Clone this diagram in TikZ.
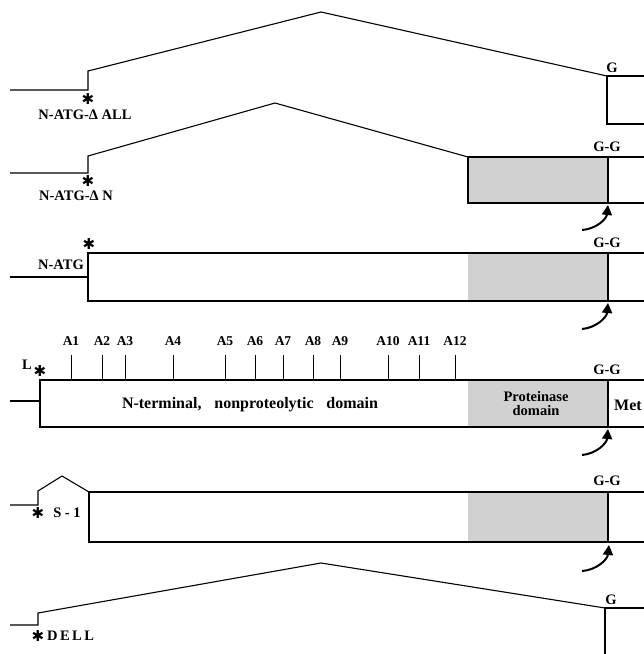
\documentclass[tikz,border=0pt]{standalone}
\usepackage{fontspec}
\setmainfont{Liberation Serif}
\newfontfamily\symfont{DejaVu Sans}
\usetikzlibrary{arrows.meta}
\begin{document}
\begin{tikzpicture}[x=1pt,y=-1pt,
  intron/.style={line width=1.1pt,line join=miter},
  exonbox/.style={line width=1.9pt},
  prot/.style={fill=black!18},
  lbl/.style={font=\fontsize{14.5}{15}\selectfont\bfseries,inner sep=0pt},
  alab/.style={font=\fontsize{13.5}{14}\selectfont\bfseries,inner sep=0pt},
  bigl/.style={font=\fontsize{16}{17}\selectfont\bfseries,inner sep=0pt},
  star/.style={font=\symfont\fontsize{15}{15}\selectfont\bfseries,inner sep=0pt},
  tickln/.style={line width=1pt},
  cleave/.style={line width=2pt,-{Triangle[width=10pt,length=10pt]},bend right=40}]
\useasboundingbox (0,0) rectangle (644,654);
\clip (0,0) rectangle (644,654);
% ---------- row 1: N-ATG-Delta ALL
\coordinate (r1a) at (10,90);
\coordinate (r1b) at (88,90);
\coordinate (r1c) at (88,71);
\coordinate (r1p) at (321,12);
\coordinate (r1g) at (607,76);
\draw[intron] (r1a) -- (r1b) -- (r1c) -- (r1p) -- (r1g);
\draw[exonbox] (r1g) rectangle (660,124);
\node[lbl] (g1) at (612,68) {G};
\node[star] (s1) at (88,99) {✱};
\node[lbl] (n1) at (85,115) {N-ATG-Δ ALL};
% ---------- row 2: N-ATG-Delta N
\coordinate (r2a) at (10,173);
\coordinate (r2b) at (88,173);
\coordinate (r2c) at (88,156);
\coordinate (r2p) at (275,103);
\coordinate (r2g) at (468,157);
\draw[intron] (r2a) -- (r2b) -- (r2c) -- (r2p) -- (r2g);
\fill[prot] (r2g) rectangle (608,203);
\draw[exonbox] (r2g) rectangle (660,203);
\draw[intron] (608,157) -- (608,203);
\node[lbl] (gg2) at (607,147) {G-G};
\node[star] (s2) at (88,181) {✱};
\node[lbl] (n2) at (76,196) {N-ATG-Δ N};
\coordinate (a2s) at (582,230);
\coordinate (a2e) at (608,205);
\draw[cleave] (a2s) to (a2e);
% ---------- row 3: N-ATG
\coordinate (r3a) at (10,277);
\coordinate (r3b) at (88,277);
\draw[intron] (r3a) -- (r3b);
\fill[prot] (468,253) rectangle (608,301);
\draw[exonbox] (88,253) rectangle (660,301);
\draw[exonbox] (608,253) -- (608,301);
\node[star] (s3) at (89,244) {✱};
\node[lbl,anchor=east] (n3) at (84,265) {N-ATG};
\node[lbl] (gg3) at (607,243) {G-G};
\coordinate (a3s) at (582,329);
\coordinate (a3e) at (608,303);
\draw[cleave] (a3s) to (a3e);
% ---------- row 4: full length
\coordinate (r4a) at (10,401);
\coordinate (r4b) at (40,401);
\draw[intron] (r4a) -- (r4b);
\fill[prot] (468,380) rectangle (608,427);
\draw[exonbox] (40,380) rectangle (660,427);
\draw[exonbox] (608,380) -- (608,427);
\foreach \x/\t in {71/A1,102/A2,125/A3,173/A4,225/A5,255/A6,283/A7,313/A8,340/A9,388/A10,419/A11,455/A12}{
  \draw[tickln] (\x,355) -- (\x,380);
  \node[alab] (lab\t) at (\x,341) {\t};
}
\node[star] (s4) at (40,371) {✱};
\node[lbl] (l4) at (27,365) {L};
\node[bigl] (nt) at (250,405) {N-terminal,\hspace{0.8em}nonproteolytic\hspace{0.8em}domain};
\node[lbl,align=center] (pd) at (536,404) {Proteinase\\[-1pt]domain};
\node[bigl] (met) at (628,405) {Met};
\node[lbl] (gg4) at (607,370) {G-G};
\coordinate (a4s) at (582,455);
\coordinate (a4e) at (608,429);
\draw[cleave] (a4s) to (a4e);
% ---------- row 5: S-1
\coordinate (r5a) at (10,505);
\coordinate (r5b) at (38,505);
\coordinate (r5c) at (38,491);
\coordinate (r5p) at (62,476);
\coordinate (r5g) at (89,492);
\draw[intron] (r5a) -- (r5b) -- (r5c) -- (r5p) -- (r5g);
\fill[prot] (468,492) rectangle (608,542);
\draw[exonbox] (r5g) rectangle (660,542);
\draw[exonbox] (608,492) -- (608,542);
\node[star] (s5) at (38,513) {✱};
\node[lbl] (n5) at (67,513) {S - 1};
\node[lbl] (gg5) at (607,481) {G-G};
\coordinate (a5s) at (582,571);
\coordinate (a5e) at (609,545);
\draw[cleave] (a5s) to (a5e);
% ---------- row 6: DELL
\coordinate (r6a) at (10,625);
\coordinate (r6b) at (38,625);
\coordinate (r6c) at (38,613);
\coordinate (r6p) at (321,563);
\coordinate (r6g) at (605,608);
\draw[intron] (r6a) -- (r6b) -- (r6c) -- (r6p) -- (r6g);
\draw[exonbox] (r6g) rectangle (660,670);
\node[lbl] (g6) at (611,600) {G};
\node[star] (s6) at (38,636) {✱};
\node[lbl,anchor=west] (n6) at (47,636) {D\,E\,L\,L};
\end{tikzpicture}
\end{document}
